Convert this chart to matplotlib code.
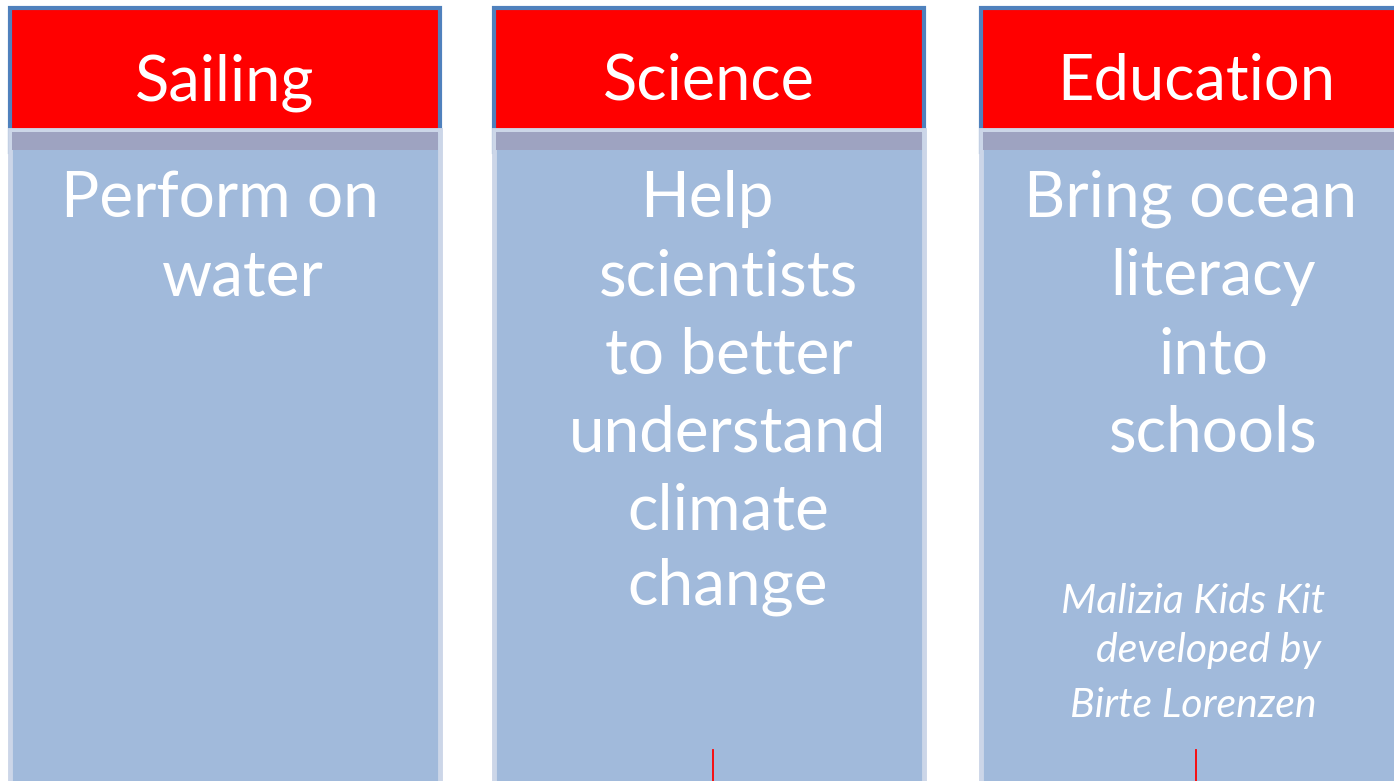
import matplotlib
matplotlib.use("Agg")
import matplotlib.pyplot as plt
from matplotlib.patches import Rectangle

# ---- data ----
categories = ["Sailing", "Science", "Education"]
body_lines = [
    ["Perform on", "water"],
    ["Help", "scientists", "to better", "understand", "climate", "change"],
    ["Bring ocean", "literacy", "into", "schools"],
]
note_lines = ["Malizia Kids Kit", "developed by", "Birte Lorenzen"]

# ---- layout (pixels) ----
W, H = 1394, 781
col_left = [10, 494, 981]
col_w = 430
body_x = [[220, 243], [707, 728, 729, 728, 728, 728], [1191, 1213, 1213, 1213]]
body_base = [217, 295, 374, 452, 529, 605]
note_x = [1193, 1209, 1193]
note_base = [613, 662, 717]
connector_x = [713, 1196]

FONT = ["Lato", "DejaVu Sans"]
RED = "#FF0000"
HEAD_EDGE = "#4F81BD"
BODY = "#A1BADB"
BODY_EDGE = "#CCD6E8"
BAND = "#9EA3C1"

fig = plt.figure(figsize=(W / 100, H / 100), dpi=100)
ax = fig.add_axes([0, 0, 1, 1])
ax.set_xlim(0, W)
ax.set_ylim(H, 0)
ax.axis("off")

for i, cat in enumerate(categories):
    x0 = col_left[i]
    # header
    ax.add_patch(Rectangle((x0, 8), col_w, 144, facecolor=RED,
                           edgecolor=HEAD_EDGE, linewidth=3, zorder=1))
    # body
    ax.add_patch(Rectangle((x0, 130), col_w, 700, facecolor=BODY,
                           edgecolor=BODY_EDGE, linewidth=3.5, zorder=2))
    ax.add_patch(Rectangle((x0 + 2, 132), col_w - 4, 18, facecolor=BAND,
                           edgecolor="none", zorder=3))
    ax.text(x0 + col_w / 2, 100, cat, color="white", fontsize=45.5,
            family=FONT, fontweight="normal", ha="center", va="baseline", zorder=5)
    for j, line in enumerate(body_lines[i]):
        ax.text(body_x[i][j], body_base[j], line, color="white", fontsize=46,
                family=FONT, fontweight="normal", ha="center", va="baseline", zorder=5)

for k, line in enumerate(note_lines):
    ax.text(note_x[k], note_base[k], line, color="white", fontsize=29.5,
            family=FONT, fontweight="normal", style="italic",
            ha="center", va="baseline", zorder=5)

for xc in connector_x:
    ax.plot([xc, xc], [750, H], color=RED, linewidth=1.3, zorder=6)

fig.savefig("out.png", dpi=100)
